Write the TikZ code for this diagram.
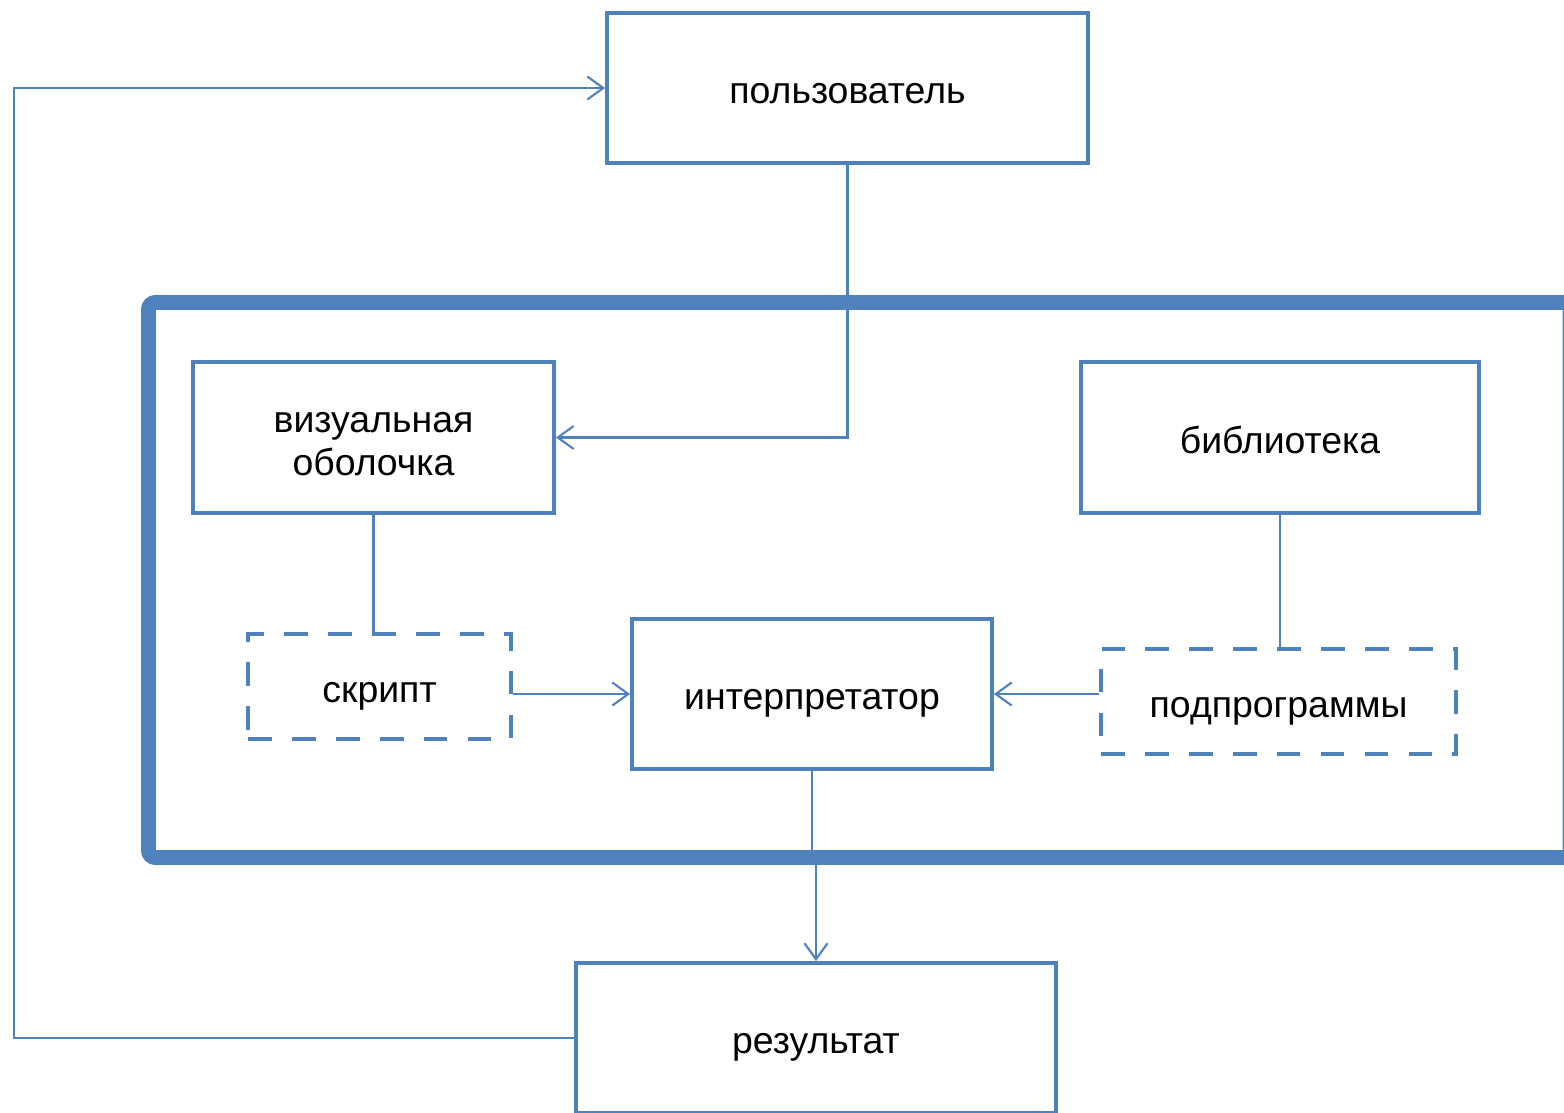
\documentclass[tikz,border=0pt]{standalone}
\usepackage{fontspec}
\setmainfont{Liberation Sans}
\usetikzlibrary{arrows.meta}
\definecolor{officeblue}{RGB}{79, 129, 189}

\begin{document}
\begin{tikzpicture}[x=0.02cm, y=-0.02cm,
        box/.style={draw=officeblue, line width=2.2pt, fill=white, align=center,
                font=\fontsize{21.3}{24.5}\selectfont, inner sep=0pt,
                text height=21.5pt, text depth=3.8pt},
        dashbox/.style={box, line width=2pt, dash pattern=on 13.5pt off 11.5pt},
        link/.style={draw=officeblue, line width=1.3pt},
        arrow/.style={link, -{Straight Barb[length=3.2mm, width=4.6mm, line width=1.2pt]}}]
    \useasboundingbox (0, 0) rectangle (1564, 1112);
    \clip (0, 0) rectangle (1564, 1112);

    \pgfmathsetmacro{\leftCol}{373.5}
    \pgfmathsetmacro{\midCol}{812}
    \pgfmathsetmacro{\rightCol}{1280}

    % the big frame round the system
    \draw[officeblue, line width=8.5pt, rounded corners=4pt] (148.5, 302.5) rectangle (1570, 857.5);
    \coordinate (frameb) at (0, 857.5);

    % top and bottom boxes
    \node[box, minimum width=9.62cm, minimum height=3cm] (user) at (847.5, 88) {пользователь};
    \node[box, minimum width=9.6cm, minimum height=3cm] (result) at (816, 1038) {результат};

    % boxes inside the frame
    \node[box, text height=, text depth=, minimum width=7.22cm, minimum height=3.02cm] (shell) at (\leftCol, 437.5) {\rule{0pt}{18.5pt}визуальная\\оболочка};
    \node[box, minimum width=7.96cm, minimum height=3.02cm] (library) at (\rightCol, 437.5) {библиотека};
    \node[dashbox, minimum width=5.26cm, minimum height=2.1cm] (script) at (379.5, 686.5) {скрипт};
    \node[box, minimum width=7.2cm, minimum height=3cm] (interp) at (\midCol, 694) {интерпретатор};
    \node[dashbox, minimum width=7.1cm, minimum height=2.1cm] (subprog) at (1278.5, 701.5) {подпрограммы};

    % connectors
    \draw[arrow] (user.south) |- (shell.east);
    \draw[link] (shell.south) -- (shell.south |- script.north);
    \draw[link] (library.south) -- (library.south |- subprog.north);
    \draw[arrow] (interp.west -| script.east) -- (interp.west);
    \draw[arrow] (interp.east -| subprog.west) -- (interp.east);
    \draw[link] (interp.south) -- (interp.south |- frameb);
    \draw[arrow] (result.north |- frameb) -- (result.north);

    % back from the result to the user
    \coordinate (back) at (14, 0);
    \draw[arrow] (result.west) -| (back |- user.west) -- (user.west);
\end{tikzpicture}
\end{document}
